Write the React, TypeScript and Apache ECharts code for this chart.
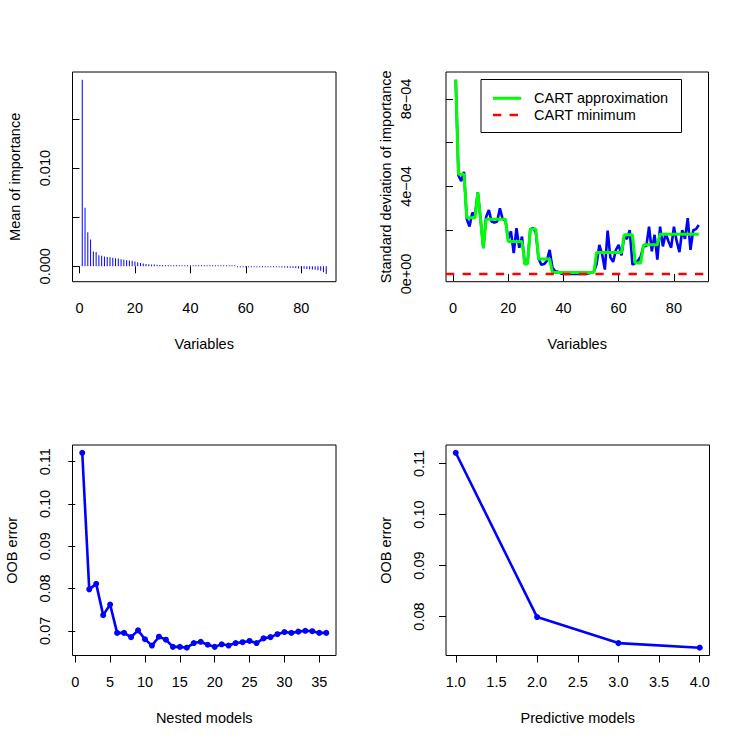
import React, { useEffect, useRef } from "react";
import * as echarts from "echarts";

// ---------- Data ----------
// Panel 1: mean of importance per (sorted) variable 1..89
const meanImportance = [
  0.0190, 0.00595, 0.00347, 0.00272, 0.00150, 0.00146, 0.00112, 0.00108, 0.00100, 0.00095,
  0.00092, 0.00086, 0.00083, 0.00078, 0.00072, 0.00066, 0.00062, 0.00059, 0.00056, 0.00048,
  0.00040, 0.00034, 0.00028, 0.00024, 0.00021, 0.00019, 0.00017, 0.00015, 0.00013, 0.00012,
  0.00011, 0.00010, 0.00009, 0.00009, 0.00008, 0.00008, 0.00007, 0.00007, 0.00006, 0.00006,
  0.00005, 0.00005, 0.00004, 0.00004, 0.00004, 0.00003, 0.00003, 0.00003, 0.00002, 0.00002,
  0.00002, 0.00001, 0.00001, 0.00001, 0.00001, 0.00001, -0.00001, -0.00001, -0.00002, -0.00002,
  -0.00003, -0.00003, -0.00004, -0.00004, -0.00005, -0.00005, -0.00006, -0.00007, -0.00008, -0.00009,
  -0.00010, -0.00011, -0.00012, -0.00013, -0.00015, -0.00016, -0.00018, -0.00020, -0.00022, -0.00024,
  -0.00026, -0.00028, -0.00030, -0.00033, -0.00036, -0.00040, -0.00045, -0.00060, -0.00078,
];

// Panel 2: standard deviation of importance (units of 1e-4)
const sdImportance = [
  8.88, 4.5, 4.24, 4.67, 2.5, 2.17, 2.8, 2.7, 3.73, 2.5,
  1.18, 2.6, 2.92, 2.4, 2.35, 2.4, 3.0, 2.5, 2.45, 1.6,
  1.95, 0.95, 2.09, 1.2, 1.71, 0.45, 0.5, 2.04, 2.1, 1.9,
  0.7, 0.42, 0.45, 0.6, 1.1, 0.3, 0.12, 0.1, 0.02, 0,
  0, 0, 0, 0, 0, 0, 0, 0, 0.02, 0.05,
  0.1, 0.45, 1.33, 0.9, 0.2, 1.98, 0.75, 0.55, 1.1, 1.33,
  0.85, 1.7, 1.6, 2.0, 0.42, 0.5, 0.6, 0.8, 1.3, 1.26,
  2.16, 1.03, 1.79, 0.65, 2.16, 1.26, 1.86, 1.5, 1.2, 2.16,
  1.5, 1.0, 2.0, 1.6, 2.55, 1.1, 2.0, 2.05, 2.24,
];

// CART approximation of the sd curve (units of 1e-4)
const cartApprox = [
  8.88, 4.56, 4.56, 4.56, 2.57, 2.57, 2.57, 2.57, 3.73, 2.5,
  1.18, 2.5, 2.5, 2.5, 2.5, 2.5, 2.5, 2.5, 2.5, 1.48,
  1.48, 1.48, 1.48, 1.48, 1.48, 0.45, 0.45, 2.05, 2.05, 2.05,
  0.68, 0.68, 0.68, 0.68, 0.68, 0.06, 0.06, 0.06, 0.06, 0.06,
  0.06, 0.06, 0.06, 0.06, 0.06, 0.06, 0.06, 0.06, 0.06, 0.06,
  0.06, 0.98, 0.98, 0.98, 0.98, 0.98, 0.98, 0.98, 0.98, 0.98,
  0.98, 1.79, 1.79, 1.79, 1.79, 0.5, 0.5, 0.5, 1.33, 1.33,
  1.33, 1.33, 1.33, 1.33, 1.82, 1.82, 1.82, 1.82, 1.82, 1.82,
  1.82, 1.82, 1.82, 1.82, 1.82, 1.82, 1.82, 1.82, 1.82,
];
const cartMinimum = 0.06; // units of 1e-4
const sdScale = 1e-4;

// Panel 3: OOB error of nested models 1..36
const nestedOOB = [
  0.1121, 0.0798, 0.0811, 0.0737, 0.0762, 0.0695, 0.0695, 0.0685, 0.0701, 0.0680,
  0.0665, 0.0686, 0.0679, 0.0662, 0.0662, 0.0660, 0.0671, 0.0674, 0.0667, 0.0662,
  0.0668, 0.0665, 0.0671, 0.0673, 0.0676, 0.0671, 0.0682, 0.0685, 0.0692, 0.0697,
  0.0695, 0.0698, 0.0700, 0.0699, 0.0695, 0.0695,
];

// Panel 4: OOB error of predictive models 1..4
const predictiveOOB = [0.1121, 0.0799, 0.0748, 0.0739];

// Tick values and labels
const p1XTicks = [0, 20, 40, 60, 80];
const p1XLabels = ["0", "20", "40", "60", "80"];
const p1YTicks = [0, 0.005, 0.01, 0.015];
const p1YLabelTicks = [0, 0.01];
const p1YLabels = ["0.000", "0.010"];
const p2YTicks = [0, 2e-4, 4e-4, 6e-4, 8e-4];
const p2YLabelTicks = [0, 4e-4, 8e-4];
const p2YLabels = ["0e+00", "4e\u221204", "8e\u221204"];
const p3XTicks = [0, 5, 10, 15, 20, 25, 30, 35];
const p3XLabels = ["0", "5", "10", "15", "20", "25", "30", "35"];
const p3YTicks = [0.07, 0.08, 0.09, 0.1, 0.11];
const p3YLabels = ["0.07", "0.08", "0.09", "0.10", "0.11"];
const p4XTicks = [1, 1.5, 2, 2.5, 3, 3.5, 4];
const p4XLabels = ["1.0", "1.5", "2.0", "2.5", "3.0", "3.5", "4.0"];
const p4YTicks = [0.08, 0.09, 0.1, 0.11];
const p4YLabels = ["0.08", "0.09", "0.10", "0.11"];

const legendItems = ["CART approximation", "CART minimum"];

// ---------- Styling ----------
const FONT = "'Liberation Sans', Arial, Helvetica, sans-serif";
const FS = 14.5;
const BLUE = "#0000ff";
const GREEN = "#00ff00";
const RED = "#ff0000";

// R-like axis range (4% extension)
function rng(vals: number[]) {
  const mn = Math.min(...vals);
  const mx = Math.max(...vals);
  const e = (mx - mn) * 0.04;
  return [mn - e, mx + e];
}

function fmt(ticks: number[], labels: string[]) {
  return (v: number) => {
    const i = ticks.findIndex((t) => Math.abs(t - v) < 1e-10);
    return i >= 0 ? labels[i] : "";
  };
}

function xAxis(gi: number, r: number[], ticks: number[], labelTicks: number[], labels: string[], name: string) {
  return {
    type: "value",
    gridIndex: gi,
    min: r[0],
    max: r[1],
    axisLine: { show: false },
    splitLine: { show: false },
    axisTick: { show: true, customValues: ticks, length: 7, lineStyle: { color: "#000", width: 1 } },
    axisLabel: {
      customValues: labelTicks,
      formatter: fmt(labelTicks, labels),
      margin: 19,
      fontSize: FS,
      fontFamily: FONT,
      color: "#000",
    },
    name,
    nameLocation: "middle",
    nameGap: 55,
    nameTextStyle: { fontSize: FS, fontFamily: FONT, color: "#000" },
  };
}

function yAxis(
  gi: number,
  r: number[],
  ticks: number[],
  labelTicks: number[],
  labels: string[],
  name: string,
  labelMargin: number,
  nameGap: number
) {
  return {
    type: "value",
    gridIndex: gi,
    min: r[0],
    max: r[1],
    axisLine: { show: false },
    splitLine: { show: false },
    axisTick: { show: true, customValues: ticks, length: 7, lineStyle: { color: "#000", width: 1 } },
    axisLabel: {
      customValues: labelTicks,
      formatter: fmt(labelTicks, labels),
      rotate: 90,
      margin: labelMargin,
      fontSize: FS,
      fontFamily: FONT,
      color: "#000",
    },
    name,
    nameLocation: "middle",
    nameGap,
    nameTextStyle: { fontSize: FS, fontFamily: FONT, color: "#000" },
  };
}

const gridBox = { show: true, borderColor: "#000", borderWidth: 1, backgroundColor: "transparent" };

export default function App() {
  const ref = useRef<HTMLDivElement>(null);
  useEffect(() => {
    if (!ref.current) return;
    const chart = echarts.init(ref.current, undefined, { renderer: "svg" });

    const idx89 = meanImportance.map((_, i) => i + 1);
    const p1X = rng(idx89);
    const p1Y = rng(meanImportance);
    const sdVals = sdImportance.map((v) => v * sdScale);
    const p2Y = rng(sdVals);
    const idx36 = nestedOOB.map((_, i) => i + 1);
    const p3X = rng(idx36);
    const p3Y = rng(nestedOOB);
    const idx4 = predictiveOOB.map((_, i) => i + 1);
    const p4X = rng(idx4);
    const p4Y = rng(predictiveOOB);

    const lgX = 481;
    const lgY = 79.5;

    chart.setOption({
      animation: false,
      backgroundColor: "#fff",
      textStyle: { fontFamily: FONT },
      grid: [
        { left: 72.5, top: 72, width: 263.5, height: 209.7, ...gridBox },
        { left: 446, top: 72, width: 262.5, height: 209.7, ...gridBox },
        { left: 72.5, top: 445, width: 263.5, height: 210.5, ...gridBox },
        { left: 446, top: 445, width: 263.5, height: 210.5, ...gridBox },
      ],
      xAxis: [
        xAxis(0, p1X, p1XTicks, p1XTicks, p1XLabels, "Variables"),
        xAxis(1, p1X, p1XTicks, p1XTicks, p1XLabels, "Variables"),
        xAxis(2, p3X, p3XTicks, p3XTicks, p3XLabels, "Nested models"),
        xAxis(3, p4X, p4XTicks, p4XTicks, p4XLabels, "Predictive models"),
      ],
      yAxis: [
        yAxis(0, p1Y, p1YTicks, p1YLabelTicks, p1YLabels, "Mean of importance", 20, 50),
        yAxis(1, p2Y, p2YTicks, p2YLabelTicks, p2YLabels, "Standard deviation of importance", 33, 53),
        yAxis(2, p3Y, p3YTicks, p3YTicks, p3YLabels, "OOB error", 20, 53),
        yAxis(3, p4Y, p4YTicks, p4YTicks, p4YLabels, "OOB error", 20, 53),
      ],
      series: [
        {
          type: "bar",
          xAxisIndex: 0,
          yAxisIndex: 0,
          barWidth: 1,
          barMinHeight: 1,
          itemStyle: { color: BLUE },
          data: meanImportance.map((v, i) => [idx89[i], v]),
        },
        {
          type: "line",
          xAxisIndex: 1,
          yAxisIndex: 1,
          showSymbol: false,
          symbol: "none",
          lineStyle: { color: BLUE, width: 2.6 },
          data: sdVals.map((v, i) => [idx89[i], v]),
        },
        {
          name: legendItems[0],
          type: "line",
          xAxisIndex: 1,
          yAxisIndex: 1,
          showSymbol: false,
          symbol: "none",
          lineStyle: { color: GREEN, width: 3 },
          data: cartApprox.map((v, i) => [idx89[i], v * sdScale]),
          markLine: {
            silent: true,
            symbol: ["none", "none"],
            label: { show: false },
            lineStyle: { color: RED, width: 2.4, type: [8.3, 8.3] },
            data: [{ yAxis: cartMinimum * sdScale }],
          },
        },
        {
          type: "line",
          xAxisIndex: 2,
          yAxisIndex: 2,
          symbol: "circle",
          symbolSize: 6,
          itemStyle: { color: BLUE },
          lineStyle: { color: BLUE, width: 2.6 },
          data: nestedOOB.map((v, i) => [idx36[i], v]),
        },
        {
          type: "line",
          xAxisIndex: 3,
          yAxisIndex: 3,
          symbol: "circle",
          symbolSize: 6,
          itemStyle: { color: BLUE },
          lineStyle: { color: BLUE, width: 2.6 },
          data: predictiveOOB.map((v, i) => [idx4[i], v]),
        },
      ],
      graphic: [
        {
          type: "group",
          z: 100,
          children: [
            {
              type: "rect",
              shape: { x: lgX, y: lgY, width: 200.5, height: 53 },
              style: { fill: "#fff", stroke: "#000", lineWidth: 1 },
            },
            {
              type: "line",
              shape: { x1: lgX + 12, y1: lgY + 18.8, x2: lgX + 40, y2: lgY + 18.8 },
              style: { stroke: GREEN, lineWidth: 3 },
            },
            {
              type: "line",
              shape: { x1: lgX + 12, y1: lgY + 35.5, x2: lgX + 40, y2: lgY + 35.5 },
              style: { stroke: RED, lineWidth: 2.4, lineDash: [8.3, 8.3] },
            },
            {
              type: "text",
              x: lgX + 53,
              y: lgY + 18.8,
              style: { text: legendItems[0], fontSize: FS, fontFamily: FONT, fill: "#000", verticalAlign: "middle" },
            },
            {
              type: "text",
              x: lgX + 53,
              y: lgY + 35.5,
              style: { text: legendItems[1], fontSize: FS, fontFamily: FONT, fill: "#000", verticalAlign: "middle" },
            },
          ],
        },
      ],
    });
    return () => chart.dispose();
  }, []);

  return (
    <div
      ref={ref}
      style={{ position: "fixed", left: 0, top: 0, width: 747, height: 746, background: "#fff" }}
    />
  );
}
